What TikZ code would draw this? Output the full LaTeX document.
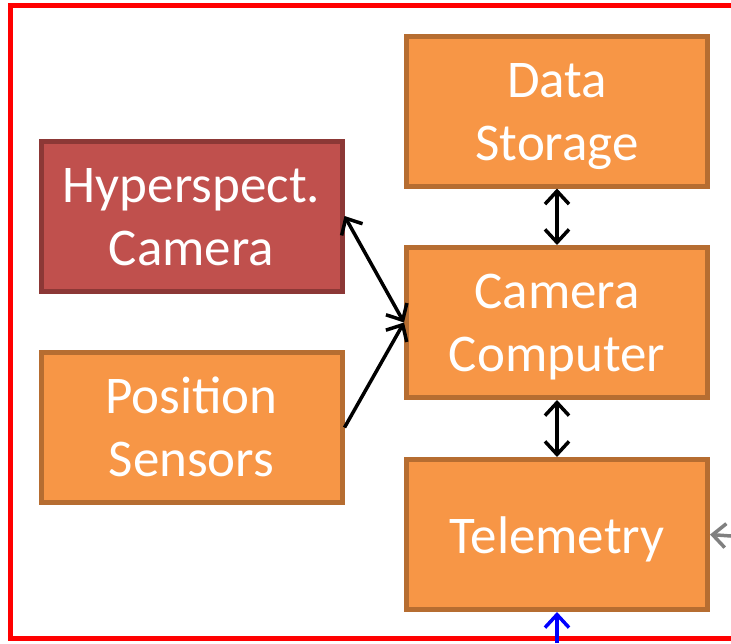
\documentclass[tikz,border=0pt]{standalone}
\usepackage{fontspec}
\setmainfont{Carlito}
\usetikzlibrary{arrows.meta}
\definecolor{boxorange}{HTML}{F79646}
\definecolor{boxorangeline}{HTML}{B66D31}
\definecolor{boxred}{HTML}{C0504D}
\definecolor{boxredline}{HTML}{8C3836}
\newcommand{\boxlines}[1]{\begin{tabular}[t]{@{}c@{}}#1\end{tabular}}
\tikzset{
  unitbox/.style={draw=boxorangeline,fill=boxorange,line width=5pt,
    minimum width=301pt,minimum height=150pt,text=white,
    font=\fontsize{53}{63}\selectfont,text height=50pt,text depth=13pt},
  twolines/.style={text depth=78pt},
  camerabox/.style={unitbox,draw=boxredline,fill=boxred},
  link/.style={line width=3.5pt,{Straight Barb[length=13pt,width=24pt]}-{Straight Barb[length=13pt,width=24pt]}},
  feed/.style={line width=3.5pt,-{Straight Barb[length=13pt,width=24pt]}}
}
\begin{document}
\begin{tikzpicture}[x=1pt,y=-1pt]
\clip (0,0) rectangle (731,643);

%FRAME
\draw[red,line width=5pt] (10.5,5.5) rectangle (760,638.5);

%BOXES
\node[unitbox,twolines] (storage) at (557,111) {\boxlines{Data\\Storage}};
\node[unitbox,twolines] (computer) at (557,322.5) {\boxlines{Camera\\Computer}};
\node[unitbox] (telemetry) at (557,534.5) {\boxlines{Telemetry}};
\node[camerabox,twolines] (camera) at (191.5,216) {\boxlines{Hyperspect.\\Camera}};
\node[unitbox,twolines] (sensors) at (191.5,427.5) {\boxlines{Position\\Sensors}};

%ARROWS
\draw[link] (storage.south) -- (computer.north);
\draw[link] (computer.south) -- (telemetry.north);
\draw[link] (camera.east) -- (computer.west);
\draw[feed] (sensors.east) -- (computer.west);

% incoming from outside
\coordinate (ground) at (731,536);
\coordinate (uplink) at (557,643);
\draw[feed,gray] (ground) -- (telemetry.east);
\draw[feed,blue] (uplink) -- (telemetry.south);

\end{tikzpicture}
\end{document}
